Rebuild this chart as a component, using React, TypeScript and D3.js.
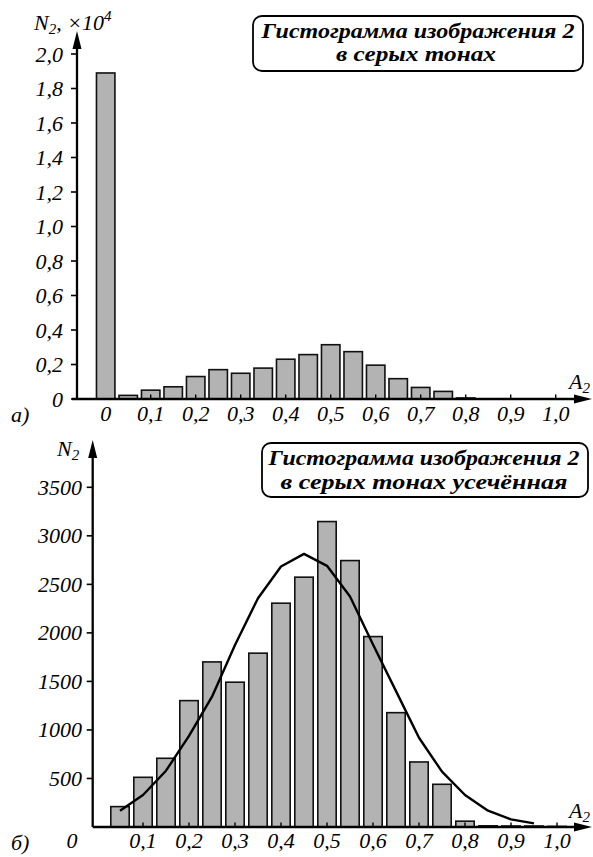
import React from "react";
import * as d3 from "d3";

// Bin centres of the grey-level histogram (A2)
const binCenters = [0, 0.05, 0.1, 0.15, 0.2, 0.25, 0.3, 0.35, 0.4, 0.45, 0.5, 0.55, 0.6, 0.65, 0.7, 0.75, 0.8, 0.85, 0.9, 0.95, 1.0];
// Pixel counts N2 in each bin
const counts = [18900, 210, 512, 708, 1302, 1701, 1492, 1791, 2306, 2574, 3147, 2745, 1962, 1178, 670, 440, 60, 12, 10, 10, 6];

// Smoothed (fitted) curve of the truncated histogram
const curveA = [0.05, 0.1, 0.15, 0.2, 0.25, 0.3, 0.35, 0.4, 0.45, 0.5, 0.55, 0.6, 0.65, 0.7, 0.75, 0.8, 0.85, 0.9, 0.95];
const curveN = [168, 330, 580, 938, 1343, 1876, 2357, 2684, 2814, 2691, 2374, 1880, 1400, 920, 570, 330, 168, 79, 38];

// Tick values and labels
const topYTicks = [0, 0.2, 0.4, 0.6, 0.8, 1.0, 1.2, 1.4, 1.6, 1.8, 2.0];
const topYLabels = ["0", "0,2", "0,4", "0,6", "0,8", "1,0", "1,2", "1,4", "1,6", "1,8", "2,0"];
const topXTicks = [0, 0.1, 0.2, 0.3, 0.4, 0.5, 0.6, 0.7, 0.8, 0.9, 1.0];
const topXLabels = ["0", "0,1", "0,2", "0,3", "0,4", "0,5", "0,6", "0,7", "0,8", "0,9", "1,0"];
const botYTicks = [500, 1000, 1500, 2000, 2500, 3000, 3500];
const botYLabels = ["500", "1000", "1500", "2000", "2500", "3000", "3500"];
const botXTicks = [0.1, 0.2, 0.3, 0.4, 0.5, 0.6, 0.7, 0.8, 0.9, 1.0];
const botXLabels = ["0,1", "0,2", "0,3", "0,4", "0,5", "0,6", "0,7", "0,8", "0,9", "1,0"];

const title1 = ["Гистограмма изображения 2", "в серых тонах"];
const title2 = ["Гистограмма изображения 2", "в серых тонах усечённая"];

const FONT = '"Liberation Serif", "Times New Roman", serif';
const BAR_FILL = "#b3b3b3";

function Arrow({ x, y, dir }: { x: number; y: number; dir: "up" | "right" }) {
  const len = 18, hw = 4.5;
  const pts = dir === "up"
    ? `${x},${y} ${x - hw},${y + len} ${x + hw},${y + len}`
    : `${x},${y} ${x - len},${y - hw} ${x - len},${y + hw}`;
  return <polygon points={pts} fill="#000" />;
}

export default function App() {
  // ---------- top chart scales ----------
  const xTop = d3.scaleLinear().domain([0, 1]).range([105.7, 555.7]);
  const yTop = d3.scaleLinear().domain([0, 2]).range([399, 54]);
  const topAxisX = 77;
  const topBase = yTop(0);
  const topBw = (xTop(0.05) - xTop(0)) * 0.82;

  // ---------- bottom chart scales ----------
  const xBot = d3.scaleLinear().domain([0, 1]).range([97, 557]);
  const yBot = d3.scaleLinear().domain([0, 3500]).range([827, 487.3]);
  const botAxisX = 92.7;
  const botBase = yBot(0);
  const botBw = (xBot(0.05) - xBot(0)) * 0.8;

  const line = d3.line<number>()
    .x((_, i) => xBot(curveA[i]))
    .y((d) => yBot(d))
    .curve(d3.curveLinear);

  const italic: React.CSSProperties = { fontFamily: FONT, fontStyle: "italic", fontSize: 22, fill: "#000" };
  const titleStyle: React.CSSProperties = { fontFamily: FONT, fontStyle: "italic", fontWeight: 700, fontSize: 22, fill: "#000" };
  const sub: React.CSSProperties = { fontSize: 15 };

  return (
    <svg width={593} height={857} style={{ position: "absolute", left: 0, top: 0, background: "#fff" }}>
      <rect x={0} y={0} width={593} height={857} fill="#fff" />

      {/* ================= TOP CHART ================= */}
      <g>
        {counts.map((c, i) => {
          const v = c / 10000;
          const x = xTop(binCenters[i]) - topBw / 2;
          return (
            <rect key={"tb" + i} x={x} y={yTop(v)} width={topBw} height={Math.max(0, topBase - yTop(v))}
              fill={BAR_FILL} stroke="#111" strokeWidth={1.6} />
          );
        })}
        {/* axes */}
        <line x1={topAxisX} y1={topBase} x2={topAxisX} y2={40} stroke="#000" strokeWidth={2.3} />
        <Arrow x={topAxisX} y={31} dir="up" />
        <line x1={topAxisX - 5} y1={topBase} x2={580} y2={topBase} stroke="#000" strokeWidth={2.3} />
        <Arrow x={592} y={topBase} dir="right" />
        {topYTicks.map((t, i) => (
          <g key={"tyt" + i}>
            <line x1={topAxisX - 6} x2={topAxisX} y1={yTop(t)} y2={yTop(t)} stroke="#000" strokeWidth={1.6} />
            <text x={63} y={yTop(t) + 7.5} textAnchor="end" style={italic}>{topYLabels[i]}</text>
          </g>
        ))}
        {topXTicks.map((t, i) => (
          <g key={"txt" + i}>
            {i > 0 && <line x1={xTop(t)} x2={xTop(t)} y1={topBase} y2={topBase - 4.5} stroke="#000" strokeWidth={1.4} />}
            <text x={xTop(t)} y={421} textAnchor="middle" style={italic}>{topXLabels[i]}</text>
          </g>
        ))}
        <text x={34} y={30} style={italic}>
          <tspan>N</tspan>
          <tspan style={sub} dy={4}>2</tspan>
          <tspan dy={-4}>, ×10</tspan>
          <tspan style={sub} dy={-9}>4</tspan>
        </text>
        <text x={569} y={389} style={italic}>
          <tspan>A</tspan>
          <tspan style={sub} dy={4}>2</tspan>
        </text>
        <text x={11} y={422} style={italic}>а)</text>

        <rect x={253} y={16} width={330} height={55} rx={9} ry={9} fill="#fff" stroke="#000" strokeWidth={1.8} />
        <text x={418} y={37.5} textAnchor="middle" textLength={313} lengthAdjust="spacingAndGlyphs" style={titleStyle}>{title1[0]}</text>
        <text x={416} y={61} textAnchor="middle" textLength={160} lengthAdjust="spacingAndGlyphs" style={titleStyle}>{title1[1]}</text>
      </g>

      {/* ================= BOTTOM CHART ================= */}
      <g>
        {counts.map((c, i) => {
          if (i === 0) return null;
          const x = xBot(binCenters[i]) - botBw / 2;
          return (
            <rect key={"bb" + i} x={x} y={yBot(c)} width={botBw} height={Math.max(0, botBase - yBot(c))}
              fill={BAR_FILL} stroke="#111" strokeWidth={1.6} />
          );
        })}
        <path d={line(curveN) || ""} fill="none" stroke="#000" strokeWidth={2.4} strokeLinejoin="round" />
        {/* axes */}
        <line x1={botAxisX} y1={botBase} x2={botAxisX} y2={450} stroke="#000" strokeWidth={2.3} />
        <Arrow x={botAxisX} y={440} dir="up" />
        <line x1={botAxisX} y1={botBase} x2={580} y2={botBase} stroke="#000" strokeWidth={2.3} />
        <Arrow x={592} y={botBase} dir="right" />
        {botYTicks.map((t, i) => (
          <g key={"byt" + i}>
            <line x1={botAxisX - 6} x2={botAxisX} y1={yBot(t)} y2={yBot(t)} stroke="#000" strokeWidth={1.6} />
            <text x={82} y={yBot(t) + 7.5} textAnchor="end" style={italic}>{botYLabels[i]}</text>
          </g>
        ))}
        {botXTicks.map((t, i) => (
          <g key={"bxt" + i}>
            <line x1={xBot(t)} x2={xBot(t)} y1={botBase} y2={botBase - 4.5} stroke="#000" strokeWidth={1.4} />
            <text x={xBot(t)} y={848} textAnchor="middle" style={italic}>{botXLabels[i]}</text>
          </g>
        ))}
        <text x={72} y={848} textAnchor="middle" style={italic}>0</text>
        <text x={57} y={456} style={italic}>
          <tspan>N</tspan>
          <tspan style={sub} dy={4}>2</tspan>
        </text>
        <text x={569} y={818} style={italic}>
          <tspan>A</tspan>
          <tspan style={sub} dy={4}>2</tspan>
        </text>
        <text x={11} y={850} style={italic}>б)</text>

        <rect x={262} y={443} width={326} height={54} rx={9} ry={9} fill="#fff" stroke="#000" strokeWidth={1.8} />
        <text x={424} y={465} textAnchor="middle" textLength={311} lengthAdjust="spacingAndGlyphs" style={titleStyle}>{title2[0]}</text>
        <text x={424} y={488.5} textAnchor="middle" textLength={287} lengthAdjust="spacingAndGlyphs" style={titleStyle}>{title2[1]}</text>
      </g>
    </svg>
  );
}
